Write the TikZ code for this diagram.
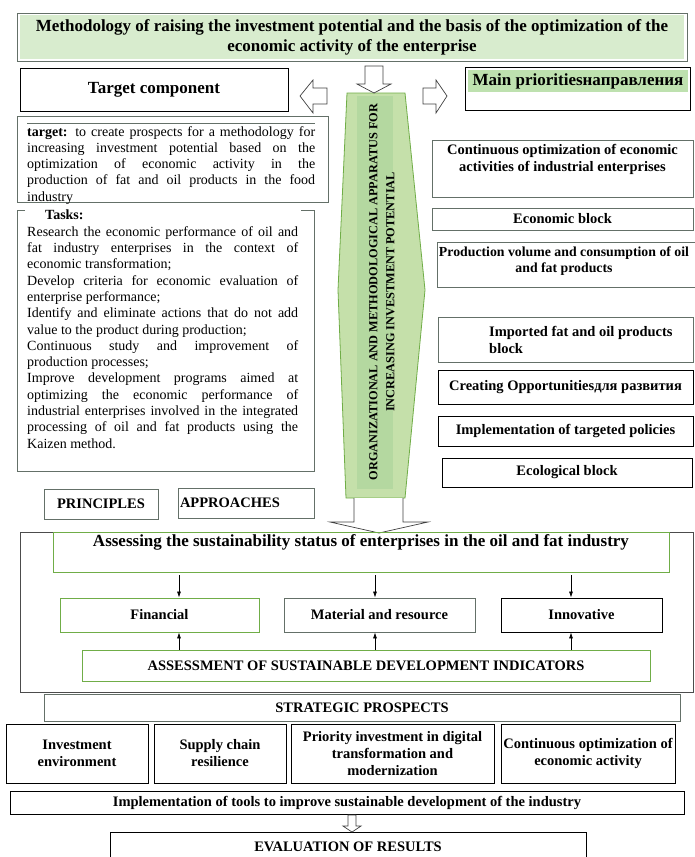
\documentclass[tikz,border=0pt]{standalone}
\usepackage{fontspec}
\setmainfont{Liberation Serif}
\usetikzlibrary{arrows.meta}
\definecolor{titlegreen}{RGB}{216,236,206}
\definecolor{lightgreen}{RGB}{197,224,170}
\definecolor{bandgreen}{RGB}{180,216,160}
\definecolor{hlgreen}{RGB}{190,225,175}
\definecolor{grnline}{RGB}{112,173,71}
\definecolor{greyline}{RGB}{100,112,104}

\begin{document}
\begin{tikzpicture}[x=1pt,y=-1pt,
  box/.style={draw=black,line width=0.8pt,inner sep=2pt,align=center,font=\bfseries\fontsize{14.5}{17}\selectfont},
  gbox/.style={box,draw=grnline},
  sbox/.style={box,draw=greyline},
  lbl/.style={inner sep=0pt,align=center,font=\bfseries\fontsize{14.5}{17}\selectfont},
  plain/.style={inner sep=0pt,align=justify,font=\fontsize{14}{16.3}\selectfont},
  thin arrow/.style={-{Latex[length=6pt,width=4pt]},line width=0.7pt},
  hollow/.style={draw=black!75,fill=white,line width=0.7pt}]
\useasboundingbox (0,0) rectangle (694,857);

% title
\node[sbox,minimum width=670,minimum height=48] (frame) at (352,37) {};
\node[lbl,fill=titlegreen,minimum width=664,minimum height=44,font=\bfseries\fontsize{17}{20}\selectfont] (title) at (frame.center)
  {Methodology of raising the investment potential and the basis of the optimization of the\\economic activity of the enterprise};

% left column
\node[box,minimum width=268,minimum height=43,font=\bfseries\fontsize{17}{20}\selectfont] (target) at (154,89.5) {Target component};
\node[sbox,minimum width=311,minimum height=86] (goalbox) at (172.5,159) {};
\draw[greyline,line width=0.5pt] (27,123) -- (315,123);
\node[plain,text width=288,anchor=north west] (goal) at (27,126)
  {\textbf{target:} to create prospects for a methodology for\linebreak increasing investment potential based on the\linebreak optimization of economic activity in the\linebreak production of fat and oil products in the food\linebreak industry};
\draw[greyline,line width=0.8pt] (25,210) -- (17,210) -- (17,471) -- (314,471) -- (314,210) -- (301,210);
\node[plain,text width=271,anchor=north west] (tasks) at (27,210)
  {\hspace*{18pt}\textbf{Tasks:}\par
   Research the economic performance of oil and\linebreak fat industry enterprises in the context of\linebreak economic transformation;\par
   Develop criteria for economic evaluation of\linebreak enterprise performance;\par
   Identify and eliminate actions that do not add\linebreak value to the product during production;\par
   Continuous study and improvement of\linebreak production processes;\par
   Improve development programs aimed at\linebreak optimizing the economic performance of\linebreak industrial enterprises involved in the integrated\linebreak processing of oil and fat products using the\linebreak Kaizen method.};
\node[sbox,minimum width=114,minimum height=30] (principles) at (101,504) {PRINCIPLES};
\node[sbox,text width=132,align=left,minimum height=30] (approaches) at (246,503) {APPROACHES};

% central apparatus
\draw[fill=lightgreen,draw=grnline,line width=0.8pt] (347,93) -- (405,93) -- (425,290) -- (405,498) -- (346,498) -- (338,290) -- cycle;
\fill[bandgreen] (357,96) rectangle (393,489);
\node[rotate=90,inner sep=0pt,align=center,font=\bfseries\fontsize{12.3}{17}\selectfont] (apparatus) at (382,292)
  {ORGANIZATIONAL AND METHODOLOGICAL APPARATUS FOR\\INCREASING INVESTMENT POTENTIAL};
\draw[hollow] (365,66) -- (383,66) -- (383,84) -- (391,84) -- (374,93) -- (357,84) -- (365,84) -- cycle;
\draw[hollow] (300,96) -- (313,80) -- (313,88) -- (327,88) -- (327,104) -- (313,104) -- (313,113) -- cycle;
\draw[hollow] (423,88) -- (436,88) -- (436,80) -- (447,96) -- (436,113) -- (436,104) -- (423,104) -- cycle;

% right column
\node[box,minimum width=225,minimum height=43] (prio) at (577.5,88.5) {};
\node[lbl,fill=hlgreen,minimum width=220,minimum height=22,font=\bfseries\fontsize{17}{20}\selectfont] (priotext) at (578,81) {Main prioritiesнаправления};
\node[sbox,minimum width=261,minimum height=57] (contopt) at (562.5,168.5)
  {Continuous optimization of economic\\activities of industrial enterprises\\ \strut};
\node[sbox,minimum width=263,minimum height=45] (volume) at (568.5,264.5) {};
\node[lbl,font=\bfseries\fontsize{13.8}{16}\selectfont] (volumetxt) at (564,261)
  {Production volume and consumption of oil\\and fat products};
\node[sbox,minimum width=261,minimum height=22] (econ) at (562.5,219) {Economic block};
\node[sbox,minimum width=255,minimum height=45] (imported) at (565.5,339.5) {};
\node[lbl,align=left,anchor=west] (importedtxt) at (489,340) {Imported fat and oil products\\block};
\node[box,minimum width=255,minimum height=34] (chances) at (565.5,387) {Creating Opportunitiesдля развития};
\node[box,minimum width=255,minimum height=30] (policies) at (565.5,431) {Implementation of targeted policies};
\node[box,minimum width=250,minimum height=29] (ecology) at (567,472.5) {Ecological block};

% assessment section
\draw[black!70,line width=0.8pt] (20,532) rectangle (693,692);
\draw[hollow] (354,498) -- (354,522) -- (330,522) -- (379,533) -- (428,522) -- (403,522) -- (403,498);
\node[gbox,minimum width=616,minimum height=40,font=\bfseries\fontsize{17}{18}\selectfont] (assess) at (361,552)
  {Assessing the sustainability status of enterprises in the oil and fat industry\\ \strut};
\node[gbox,minimum width=199,minimum height=34] (financial) at (159.5,615) {Financial};
\node[sbox,minimum width=191,minimum height=34] (material) at (379.5,615) {Material and resource};
\node[box,minimum width=161,minimum height=34] (innov) at (581.5,615) {Innovative};
\node[gbox,minimum width=568,minimum height=31] (indicators) at (366,665.5)
  {ASSESSMENT OF SUSTAINABLE DEVELOPMENT INDICATORS};
\coordinate (c1) at (179,0);
\coordinate (c2) at (375,0);
\coordinate (c3) at (571,0);
\draw[thin arrow] ([yshift=-3pt]assess.south -| c1) -- (financial.north -| c1);
\draw[thin arrow] ([yshift=-3pt]assess.south -| c2) -- (material.north -| c2);
\draw[thin arrow] ([yshift=-3pt]assess.south -| c3) -- (innov.north -| c3);
\draw[thin arrow] (indicators.north -| c1) -- (financial.south -| c1);
\draw[thin arrow] (indicators.north -| c2) -- (material.south -| c2);
\draw[thin arrow] (indicators.north -| c3) -- (innov.south -| c3);

% strategic prospects
\node[sbox,minimum width=636,minimum height=27] (strategic) at (362,707.5) {STRATEGIC PROSPECTS};
\node[box,minimum width=142,minimum height=59] (invest) at (77,753.5) {Investment\\environment};
\node[box,minimum width=132,minimum height=59] (supply) at (220,753.5) {Supply chain\\resilience};
\node[box,minimum width=203,minimum height=59] (digital) at (392.5,753.5) {Priority investment in digital\\transformation and\\modernization};
\node[box,minimum width=174,minimum height=59] (optim) at (588,753.5) {Continuous optimization of\\economic activity};
\node[box,minimum width=674,minimum height=23] (tools) at (347,802.5)
  {Implementation of tools to improve sustainable development of the industry};
\node[box,minimum width=476,minimum height=30] (results) at (348,847) {EVALUATION OF RESULTS};
\draw[hollow] (348,815) -- (348,826) -- (343,826) -- (352,832) -- (361,826) -- (356,826) -- (356,815) -- cycle;
\end{tikzpicture}
\end{document}
